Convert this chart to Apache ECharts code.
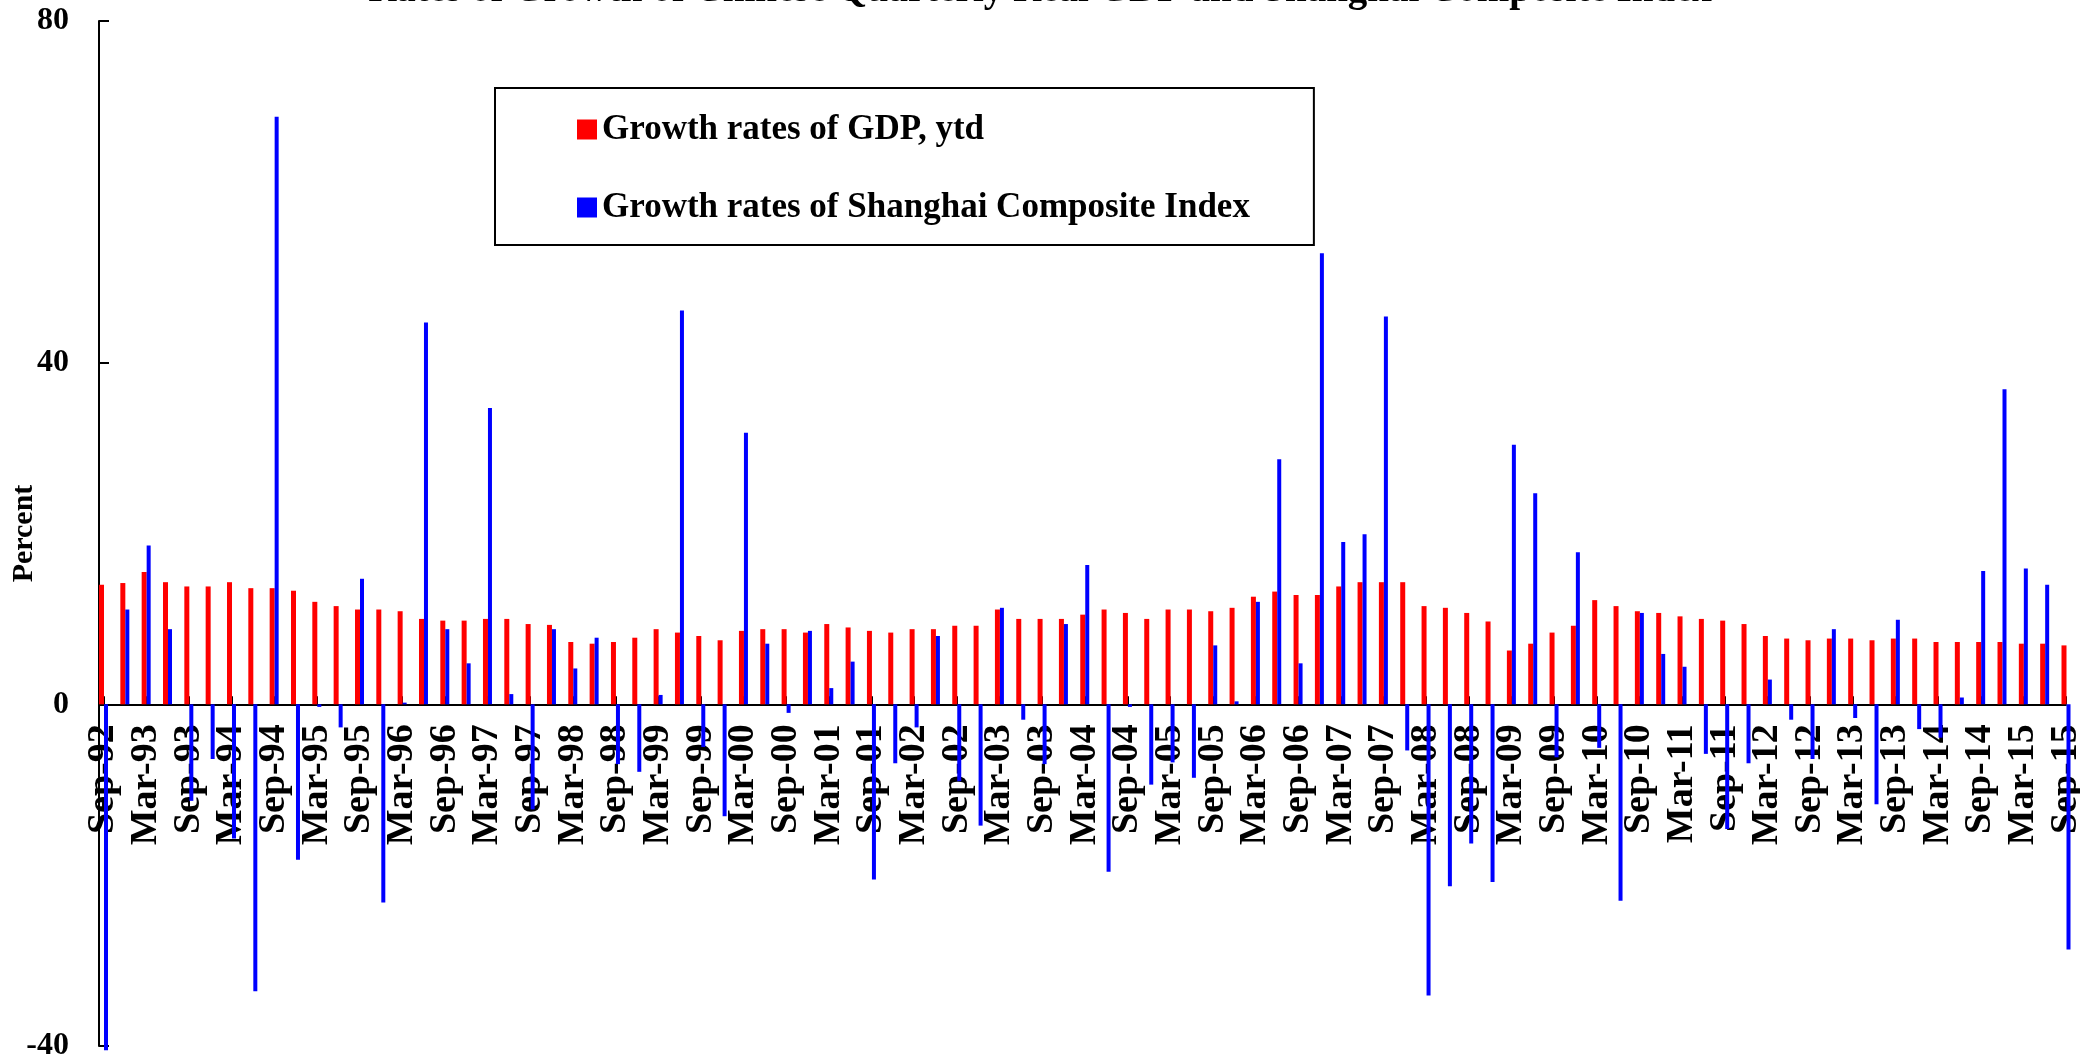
<!DOCTYPE html>
<html>
<head>
<meta charset="utf-8">
<title>GDP and Shanghai Composite Index</title>
<script src="https://cdn.jsdelivr.net/npm/echarts@6/dist/echarts.min.js"></script>
<style>
  html, body { margin: 0; padding: 0; background: #fff; }
  #chart { width: 2080px; height: 1064px; }
</style>
</head>
<body>
<div id="chart"></div>
<script>
// quarters, Sep-92 .. Sep-15
const categories = [
  "Sep-92", "Dec-92",
  "Mar-93", "Jun-93", "Sep-93", "Dec-93",
  "Mar-94", "Jun-94", "Sep-94", "Dec-94",
  "Mar-95", "Jun-95", "Sep-95", "Dec-95",
  "Mar-96", "Jun-96", "Sep-96", "Dec-96",
  "Mar-97", "Jun-97", "Sep-97", "Dec-97",
  "Mar-98", "Jun-98", "Sep-98", "Dec-98",
  "Mar-99", "Jun-99", "Sep-99", "Dec-99",
  "Mar-00", "Jun-00", "Sep-00", "Dec-00",
  "Mar-01", "Jun-01", "Sep-01", "Dec-01",
  "Mar-02", "Jun-02", "Sep-02", "Dec-02",
  "Mar-03", "Jun-03", "Sep-03", "Dec-03",
  "Mar-04", "Jun-04", "Sep-04", "Dec-04",
  "Mar-05", "Jun-05", "Sep-05", "Dec-05",
  "Mar-06", "Jun-06", "Sep-06", "Dec-06",
  "Mar-07", "Jun-07", "Sep-07", "Dec-07",
  "Mar-08", "Jun-08", "Sep-08", "Dec-08",
  "Mar-09", "Jun-09", "Sep-09", "Dec-09",
  "Mar-10", "Jun-10", "Sep-10", "Dec-10",
  "Mar-11", "Jun-11", "Sep-11", "Dec-11",
  "Mar-12", "Jun-12", "Sep-12", "Dec-12",
  "Mar-13", "Jun-13", "Sep-13", "Dec-13",
  "Mar-14", "Jun-14", "Sep-14", "Dec-14",
  "Mar-15", "Jun-15", "Sep-15"
];

// growth rates of GDP, year to date (%)
const gdpGrowth = [
  14.0, 14.2,
  15.5, 14.3, 13.8, 13.8,
  14.3, 13.6, 13.6, 13.3,
  12.0, 11.5, 11.1, 11.1,
  10.9, 10.0, 9.8, 9.8,
  10.0, 10.0, 9.4, 9.3,
  7.3, 7.1, 7.3, 7.8,
  8.8, 8.4, 8.0, 7.5,
  8.6, 8.8, 8.8, 8.4,
  9.4, 9.0, 8.6, 8.4,
  8.8, 8.8, 9.2, 9.2,
  11.1, 10.0, 10.0, 10.0,
  10.5, 11.1, 10.7, 10.0,
  11.1, 11.1, 10.9, 11.3,
  12.6, 13.2, 12.8, 12.8,
  13.8, 14.3, 14.3, 14.3,
  11.5, 11.3, 10.7, 9.7,
  6.3, 7.1, 8.4, 9.2,
  12.2, 11.5, 10.9, 10.7,
  10.3, 10.0, 9.8, 9.4,
  8.0, 7.7, 7.5, 7.7,
  7.7, 7.5, 7.7, 7.7,
  7.3, 7.3, 7.3, 7.3,
  7.1, 7.1, 6.9
];

// growth rates of Shanghai Composite Index (%)
const indexGrowth = [
  -40.5, 11.1,
  18.6, 8.8, -11.3, -6.4,
  -15.7, -33.6, 68.8, -18.2,
  -0.3, -2.7, 14.7, -23.2,
  0.2, 44.7, 8.8, 4.8,
  34.7, 1.2, -12.3, 8.8,
  4.2, 7.8, -7.0, -7.9,
  1.1, 46.1, -5.0, -13.1,
  31.8, 7.1, -1.0, 8.6,
  1.9, 5.0, -20.5, -6.9,
  -2.7, 8.0, -9.0, -14.2,
  11.3, -1.8, -7.0, 9.4,
  16.3, -19.6, -0.3, -9.4,
  -6.8, -8.6, 6.9, 0.35,
  12.0, 28.7, 4.8, 52.8,
  19.0, 19.9, 45.4, -5.4,
  -34.1, -21.3, -16.3, -20.8,
  30.4, 24.7, -6.2, 17.8,
  -5.1, -23.0, 10.7, 5.9,
  4.4, -5.8, -14.6, -6.9,
  2.9, -1.8, -6.4, 8.8,
  -1.6, -11.7, 9.9, -2.9,
  -3.9, 0.8, 15.6, 36.9,
  15.9, 14.0, -28.7
];

const yTicks = [-40, 0, 40, 80];

const serif = "'Liberation Serif', 'Times New Roman', serif";
const chart = echarts.init(document.getElementById("chart"));

// grid box in pixels; the category axis sits on the zero line
const gridTop = 21;
const gridBottom = 18;
const plotHeight = 1064 - gridTop - gridBottom;
const zeroFromBottom = plotHeight * (0 - yTicks[0]) / (yTicks[yTicks.length - 1] - yTicks[0]);

const option = {
  animation: false,
  backgroundColor: "#fff",
  color: ["#ff0000", "#0000ff"],
  title: {
    // mostly cut off by the top edge, as in the original
    text: "Rates of Growth of Chinese Quarterly Real GDP and Shanghai Composite Index",
    left: "center",
    top: -29,
    padding: 0,
    textStyle: {
      fontFamily: serif,
      fontWeight: "bold",
      fontSize: 39,
      color: "#000",
    },
  },
  legend: {
    orient: "vertical",
    left: 495,
    top: 88,
    padding: [24, 64, 20, 82],
    itemGap: 43,
    itemWidth: 20,
    itemHeight: 20,
    icon: "rect",
    borderColor: "#000",
    borderWidth: 2,
    textStyle: {
      fontFamily: serif,
      fontWeight: "bold",
      fontSize: 35,
      color: "#000",
    },
    data: ["Growth rates of GDP, ytd", "Growth rates of Shanghai Composite Index"],
  },
  grid: {
    left: 103.5,
    right: 14,
    top: gridTop,
    bottom: gridBottom,
    outerBoundsMode: "none",
  },
  xAxis: {
    type: "category",
    data: categories,
    boundaryGap: false,
    offset: -zeroFromBottom,
    axisLine: {
      onZero: false,
      lineStyle: { color: "#000", width: 2 },
    },
    axisTick: {
      show: true,
      inside: true,
      length: 8,
      interval: 1,
      lineStyle: { color: "#000", width: 2 },
    },
    axisLabel: {
      interval: 1,
      rotate: 90,
      margin: 20,
      color: "#000",
      fontFamily: serif,
      fontWeight: "bold",
      fontSize: 38,
    },
    splitLine: { show: false },
  },
  yAxis: {
    type: "value",
    min: yTicks[0],
    max: yTicks[yTicks.length - 1],
    interval: 40,
    offset: 4.5,
    name: "Percent",
    nameLocation: "middle",
    nameGap: 60,
    nameMoveOverlap: false,
    nameTextStyle: {
      fontFamily: serif,
      fontWeight: "bold",
      fontSize: 30,
      color: "#000",
    },
    axisLine: {
      show: true,
      lineStyle: { color: "#000", width: 2 },
    },
    axisTick: {
      show: true,
      inside: true,
      length: 10,
      lineStyle: { color: "#000", width: 2 },
    },
    axisLabel: {
      margin: 30,
      color: "#000",
      fontFamily: serif,
      fontWeight: "bold",
      fontSize: 32,
    },
    splitLine: { show: false },
  },
  series: [
    {
      name: "Growth rates of GDP, ytd",
      type: "bar",
      data: gdpGrowth,
      barWidth: 5,
      barGap: "0%",
      clip: false,
      itemStyle: { color: "#ff0000" },
    },
    {
      name: "Growth rates of Shanghai Composite Index",
      type: "bar",
      data: indexGrowth,
      barWidth: 4,
      barGap: "0%",
      clip: false,
      itemStyle: { color: "#0000ff" },
    },
  ],
};

chart.setOption(option);
</script>
</body>
</html>
